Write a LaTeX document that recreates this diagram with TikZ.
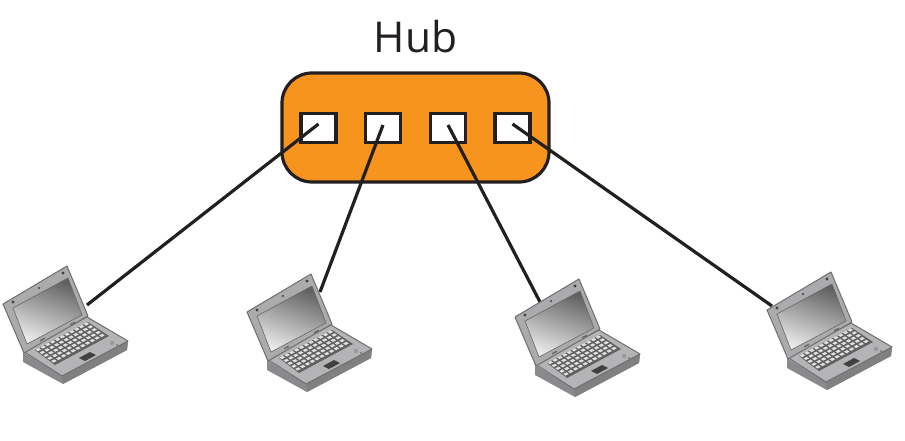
\documentclass[tikz,border=0pt]{standalone}
\usepackage{fontspec}
\setmainfont{Open Sans}
\definecolor{hubfill}{HTML}{F7941D}
\definecolor{ink}{HTML}{231F20}
\definecolor{lapedge}{HTML}{6E6E71}
\definecolor{lidgray}{HTML}{ABABAD}
\definecolor{deckgray}{HTML}{B4B4B6}
\definecolor{frontgray}{HTML}{8A8A8C}
\tikzset{
  hubbox/.style={draw=ink,fill=hubfill,line width=3.2pt,rounded corners=30pt,minimum width=267pt,minimum height=109pt,inner sep=0pt},
  portbox/.style={draw=ink,fill=white,line width=3.2pt,minimum width=35pt,minimum height=29pt,inner sep=0pt},
  wire/.style={draw=ink,line width=3.2pt},
  lapline/.style={draw=lapedge,line width=1pt,line join=round},
  laptop/.pic={
    % base: front faces
    \fill[frontgray] (23,352) -- (23,362) -- (63,384) -- (127,350) -- (128,341) -- (62,376) -- cycle;
    \fill[black!50] (63,384) -- (127,350) -- (128,341) -- (62,376) -- cycle;
    % deck
    \path[lapline,fill=deckgray] (23,351) -- (87,317) -- (128,341) -- (62,376) -- cycle;
    % keyboard well
    \fill[black!62] (35,350) -- (88,322) -- (109,336) -- (55,365) -- cycle;
    \foreach \r in {0,...,4}{
      \foreach \c in {0,...,10}{
        \pgfmathsetmacro{\kx}{35.6+\c*4.8+\r*3.9}
        \pgfmathsetmacro{\ky}{349.6-\c*2.55+\r*2.85}
        \fill[white!88!black] (\kx,\ky) -- ++(3.2,-1.7) -- ++(2.3,1.6) -- ++(-3.2,1.7) -- cycle;
      }
    }
    % touchpad and buttons
    \fill[black!75] (79,358) -- (90,352) -- (96,355) -- (85,361) -- cycle;
    \fill[black!40] (112,343) circle (2.2);
    \fill[black!65] (117,345) circle (0.9);
    % lid
    \path[lapline,fill=lidgray] (3,304) -- (67,266) -- (88,316) -- (24,353) -- cycle;
    \path[shade,top color=black!62,bottom color=black!8,shading angle=-20,draw=black!60,line width=.6pt]
      (13,308) -- (68,278) -- (82,315) -- (27,344) -- cycle;
    \fill[black!75] (13,302) circle (1.7) (39,288) circle (1.1) (63,273) circle (1.7);
    \fill[black!60] (40,340) -- (45,337.5) -- (45,339) -- (40,341.5) -- cycle;
    \fill[black!60] (70,324) -- (75,321.5) -- (75,323) -- (70,325.5) -- cycle;
  },
}
\begin{document}
\begin{tikzpicture}[x=1pt,y=-1pt]
\useasboundingbox (0,0) rectangle (905,441);
\node[anchor=base,font=\fontsize{42.5}{50}\selectfont,text=ink] (title) at (415.5,53) {Hub};
\node[hubbox] (hub) at (415.5,127.5) {};
\node[portbox] (p1) at (318.5,128) {};
\node[portbox] (p2) at (383,128) {};
\node[portbox] (p3) at (448,128) {};
\node[portbox] (p4) at (512.5,128) {};
\coordinate (e1) at (87,305);
\coordinate (e2) at (320,292);
\coordinate (e3) at (540,302);
\coordinate (e4) at (772,306);
\draw[wire] ([yshift=4pt]p1.center) -- (e1);
\draw[wire] ([yshift=3pt]p2.center) -- (e2);
\draw[wire] ([yshift=3pt]p3.center) -- (e3);
\draw[wire] ([yshift=4pt]p4.center) -- (e4);
\pic (l1) at (0,0) {laptop};
\pic (l2) at (244,8) {laptop};
\pic (l3) at (512,13) {laptop};
\pic (l4) at (764,6) {laptop};
\end{tikzpicture}
\end{document}
